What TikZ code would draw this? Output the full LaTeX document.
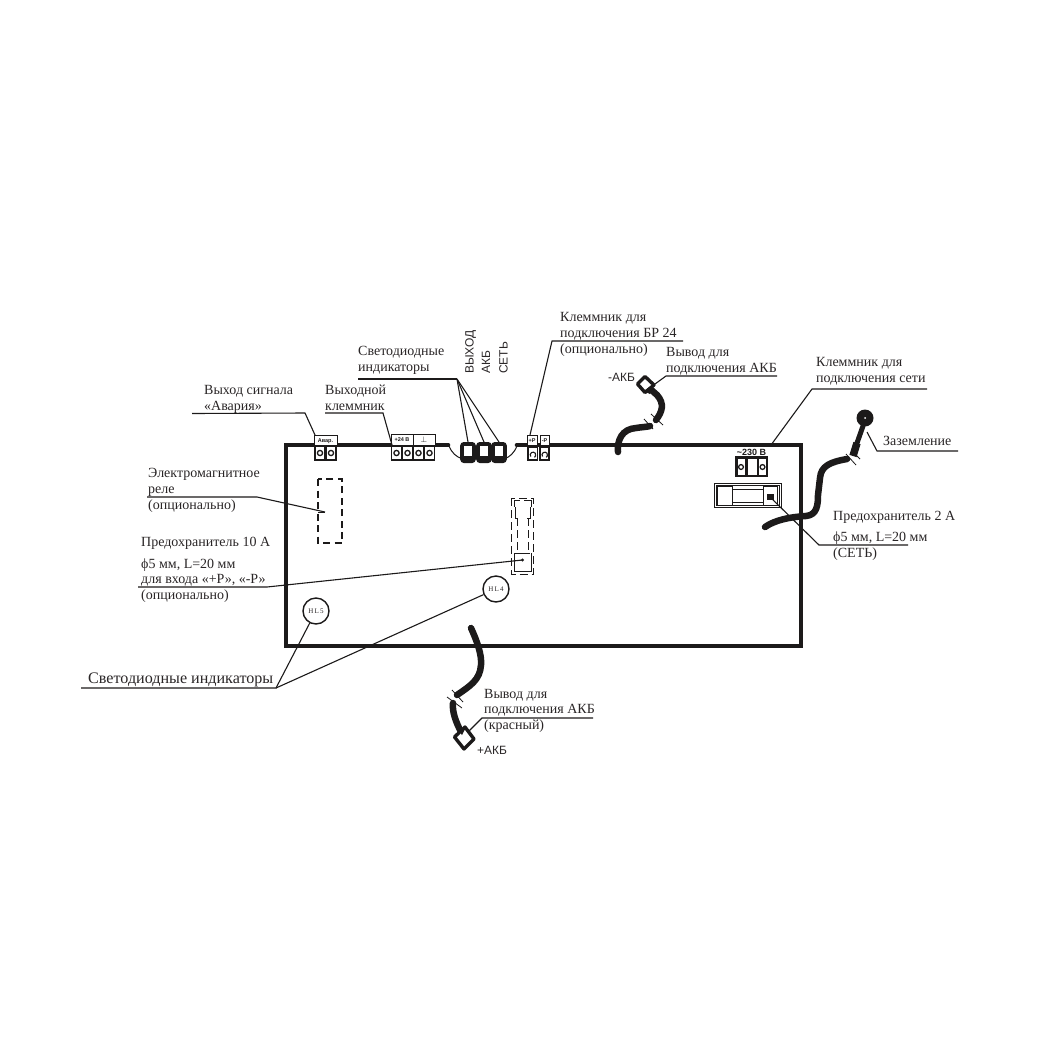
\documentclass[tikz,border=0pt]{standalone}
\usepackage{fontspec}
\setmainfont{Liberation Serif}
\newfontfamily\lsans{Liberation Sans}
\definecolor{ink}{HTML}{1C1A1A}
\definecolor{txt}{HTML}{2A2627}
\tikzset{
 lbl/.style={anchor=base west,inner sep=0pt,text=txt,font=\fontsize{14}{16}\selectfont},
 lblbig/.style={lbl,font=\fontsize{16.1}{18}\selectfont},
 sanslbl/.style={anchor=base west,inner sep=0pt,text=txt,font=\lsans\fontsize{12}{13}\selectfont},
 rotlbl/.style={sanslbl,rotate=90},
 tiny/.style={inner sep=0pt,text=ink,font=\lsans\bfseries\fontsize{5.5}{6}\selectfont},
 hl/.style={circle,draw=ink,line width=1.4pt,minimum size=26pt,inner sep=0pt,fill=white,font=\fontsize{7}{7}\selectfont,text=txt},
 frame/.style={draw=ink,line width=4.6pt,line cap=round},
 leader/.style={draw=ink,line width=1.1pt},
 thin/.style={draw=ink,line width=1pt},
 cable/.style={draw=ink,line width=6.5pt,line cap=round},
 tick/.style={draw=ink,line width=.8pt},
 lug/.style={draw=ink,line width=3.4pt,fill=white,line join=round},
 dash1/.style={draw=ink,line width=1.5pt,dash pattern=on 7pt off 4.5pt},
 dash2/.style={draw=ink,line width=1pt,dash pattern=on 8pt off 4pt},
 cellb/.style={draw=ink,line width=1.9pt,fill=white},
 labb/.style={draw=ink,line width=.7pt,fill=white}
}
\newcommand{\termcell}[4]{% x0 y0 x1 y1
 \draw[cellb] (#1,#2) rectangle (#3,#4);
 \draw[draw=ink,line width=1.3pt] ({(#1+#3)/2},{(#2+#4)/2}) circle (2.6pt);
}
\newcommand{\ccell}[4]{%
 \draw[cellb] (#1,#2) rectangle (#3,#4);
 \draw[draw=ink,line width=1.1pt] ({(#1+#3)/2-2},{(#2+#4)/2+3}) arc (215:-60:2.8pt);
}
\begin{document}
\begin{tikzpicture}[x=1pt,y=-1pt]
\useasboundingbox (0,0) rectangle (1050,1050);
\fill[white] (0,0) rectangle (1050,1050);

% board frame with the gap for the LEDs
\draw[frame,line join=miter] (448,445) -- (286,445) -- (286,646) -- (801,646) -- (801,445) -- (517,445);
\draw[thin] (449,446) .. controls (452,453) and (456,457) .. (463,459);
\draw[thin] (517,446) .. controls (514,453) and (510,457) .. (504,459);

% LEDs
\foreach \cx/\nm in {468/ledA,484/ledB,499/ledC}{
 \coordinate (\nm) at (\cx,442);
 \fill[ink,rounded corners=3.5pt] (\cx-7.8,442) rectangle (\cx+7.8,463);
 \fill[white] (\cx-4,446) rectangle (\cx+4,456);
}

% terminal: Авар.
\draw[labb] (314,435) rectangle (337,445);
\node[tiny] (tA) at (325.5,441) {Авар.};
\termcell{315}{446}{325}{460}
\termcell{326}{446}{336}{460}
% terminal: +24 В
\draw[labb] (391,434) rectangle (435,445);
\draw[labb] (413,434) -- (413,445);
\node[tiny] (tB) at (402,440) {+24 В};
\node[tiny,font=\bfseries\fontsize{8}{8}\selectfont] (tC) at (424,439.5) {$\perp$};
\termcell{391.5}{446}{401.5}{460}
\termcell{402.5}{446}{412.5}{460}
\termcell{413.5}{446}{423.5}{460}
\termcell{424.5}{446}{434.5}{460}
% terminal: +P -P
\draw[labb] (527,435) rectangle (537,445);
\draw[labb] (540,435) rectangle (549,445);
\node[tiny] (tD) at (532,440.5) {+Р};
\node[tiny] (tE) at (544.5,440.5) {-Р};
\ccell{528}{447}{537.5}{460}
\ccell{540}{447}{549}{460}
% terminal: ~230 В
\draw[labb,draw=white] (736,447.5) rectangle (768,456);
\node[inner sep=0pt,text=ink,font=\lsans\bfseries\fontsize{9}{9}\selectfont] (tF) at (751.5,452) {\textasciitilde 230 В};
\fill[ink] (735,456) rectangle (768,477);
\fill[white] (737.5,458.5) rectangle (745,474.5);
\fill[white] (747.5,458.5) rectangle (756.5,474.5);
\fill[white] (758.5,458.5) rectangle (766,474.5);
\draw[draw=ink,line width=1.3pt] (741,467) circle (2.4pt);
\draw[draw=ink,line width=1.3pt] (762.5,467) circle (2.4pt);

% mains fuse
\draw[draw=ink,line width=1pt,fill=white] (714,483) rectangle (781,507);
\draw[draw=ink,line width=.8pt] (716,485) rectangle (779,505);
\draw[draw=ink,line width=1pt,fill=white] (717.5,486) rectangle (732.5,505);
\draw[draw=ink,line width=1pt,fill=white] (763,486) rectangle (777.5,505);
\draw[draw=ink,line width=1pt,fill=white] (732.5,489.5) rectangle (763,502);
\fill[ink] (767,493.5) rectangle (773.5,500);
\coordinate (fuseM) at (770,497);

% optional relay
\draw[dash1] (318,479) rectangle (342,543);
\coordinate (relay) at (325,512);
\draw[draw=ink,line width=1pt] (318,512) -- (325,512);

% 10 A fuse (dashed)
\draw[dash2] (511.5,498) rectangle (533,574);
\draw[draw=ink,line width=.9pt] (514,500) -- (520,500);
\draw[draw=ink,line width=.9pt] (524,500) -- (531,500);
\draw[draw=ink,line width=.9pt] (514,500) -- (514,507);
\draw[draw=ink,line width=.9pt] (531,500) -- (531,507);
\draw[draw=ink,line width=.9pt] (515,507) -- (515,518) -- (518,518);
\draw[draw=ink,line width=.9pt] (530,507) -- (530,518) -- (527,518);
\draw[dash2] (517,518) -- (517,553);
\draw[dash2] (528,518) -- (528,553);
\draw[draw=ink,line width=.9pt] (515,553) -- (530,553);
\draw[draw=ink,line width=.9pt] (514,553) -- (514,571) -- (531,571) -- (531,553);
\fill[ink] (522.5,560) circle (1.6pt);
\coordinate (fuseO) at (522.5,560);

% HL circles
\node[hl] (hlfive) at (316,611) {H\,L\,5};
\node[hl] (hlfour) at (496,589) {H\,L\,4};

% cables
\draw[cable] (618,452) .. controls (617,440) and (622,429) .. (636,428) .. controls (642,427) and (647,427) .. (650,426);
\draw[cable] (656,420) .. controls (662,412) and (665,404) .. (657,395) -- (648,387);
\draw[cable] (765,527) .. controls (775,520) and (790,517) .. (806,516) .. controls (817,515) and (818,505) .. (818,495) -- (820,478) .. controls (821,466) and (830,462) .. (847,459);
\draw[cable,line cap=butt,line width=7.5pt] (853,456) -- (857,443);
\draw[cable,line width=5pt] (857,443) -- (863,426);
\draw[cable] (471,628) .. controls (477,641) and (482,655) .. (481,665) .. controls (480,680) and (470,686) .. (457,695);
\draw[cable] (453,703) .. controls (452,712) and (456,722) .. (461,732);
% wire ties
\draw[tick] (644,419) -- (653,429);
\draw[tick] (651,414) -- (663,425);
\draw[tick] (846,454) -- (856,465);
\draw[tick] (853,452) -- (860,459);
\draw[tick] (447,697) -- (462,708);
\draw[tick] (452,690) -- (463,702);
% lugs
\draw[lug] (645,376.5) -- (654,385) -- (645,392.5) -- (637.5,384) -- cycle;
\fill[ink] (644,391) -- (652,385) -- (650,394) -- cycle;
\draw[lug] (465,727) -- (474,739) -- (464,749) -- (454.5,737) -- cycle;
\fill[ink] (458,730) -- (465,729) -- (462,735) -- cycle;
\fill[ink] (865,418) circle (8.5pt);
\fill[white] (865,418) circle (1pt);

% labels
\node[lbl] (a1) at (204,394) {Выход сигнала};
\node[lbl] (a2) at (204,410) {«Авария»};
\node[lbl] (b1) at (325,394) {Выходной};
\node[lbl] (b2) at (325,410) {клеммник};
\node[lbl] (c1) at (358,355) {Светодиодные};
\node[lbl] (c2) at (358,371) {индикаторы};
\node[rotlbl] (d1) at (473.5,374) {ВЫХОД};
\node[rotlbl] (d2) at (490,374) {АКБ};
\node[rotlbl] (d3) at (507.5,374) {СЕТЬ};
\node[lbl] (e1) at (560,321) {Клеммник для};
\node[lbl] (e2) at (560,337) {подключения БР 24};
\node[lbl] (e3) at (560,353) {(опционально)};
\node[lbl] (f1) at (666,356) {Вывод для};
\node[lbl] (f2) at (666,372) {подключения АКБ};
\node[sanslbl] (f3) at (608,381.5) {-АКБ};
\node[lbl] (g1) at (816,366) {Клеммник для};
\node[lbl] (g2) at (816,382) {подключения сети};
\node[lbl] (h1) at (883,445) {Заземление};
\node[lbl] (i1) at (833,520) {Предохранитель 2 А};
\node[lbl] (i2) at (833,541) {ϕ5 мм, L=20 мм};
\node[lbl] (i3) at (833,557) {(СЕТЬ)};
\node[lbl] (j1) at (148,477) {Электромагнитное};
\node[lbl] (j2) at (148,493) {реле};
\node[lbl] (j3) at (148,509) {(опционально)};
\node[lbl] (k1) at (141,546) {Предохранитель 10 А};
\node[lbl] (k2) at (141,568) {ϕ5 мм, L=20 мм};
\node[lbl] (k3) at (141,583) {для входа «+Р», «-Р»};
\node[lbl] (k4) at (141,599) {(опционально)};
\node[lblbig] (m1) at (88,683) {Светодиодные индикаторы};
\node[lbl] (n1) at (484,698) {Вывод для};
\node[lbl] (n2) at (484,713) {подключения АКБ};
\node[lbl] (n3) at (484,729) {(красный)};
\node[sanslbl] (n4) at (477,754.5) {+АКБ};

% leaders
\draw[leader] (192,413.5) -- (305,413) -- (315,435);
\draw[leader] (325,413) -- (383,413) -- (392,445);
\draw[leader] (358,379) -- (457,379);
\draw[leader] (457,379) -- (ledA);
\draw[leader] (457,379) -- (ledB);
\draw[leader] (457,379) -- (ledC);
\draw[leader] (683,341) -- (552,341) -- (530,435);
\draw[leader] (777,376) -- (666,376) -- (655,384);
\draw[leader] (927,389) -- (812,389) -- (771,445);
\draw[leader] (958,451) -- (877,451) -- (867,432);
\draw[leader] (908,545) -- (819,545) -- (fuseM);
\draw[leader] (147,497) -- (257,497) -- (relay);
\draw[leader] (138,587) -- (267,587) -- (fuseO);
\draw[leader] (81,688) -- (276,688) -- (hlfive);
\draw[leader] (276,688) -- (hlfour);
\draw[leader] (593,718) -- (482,718) -- (468,732);
\end{tikzpicture}
\end{document}
